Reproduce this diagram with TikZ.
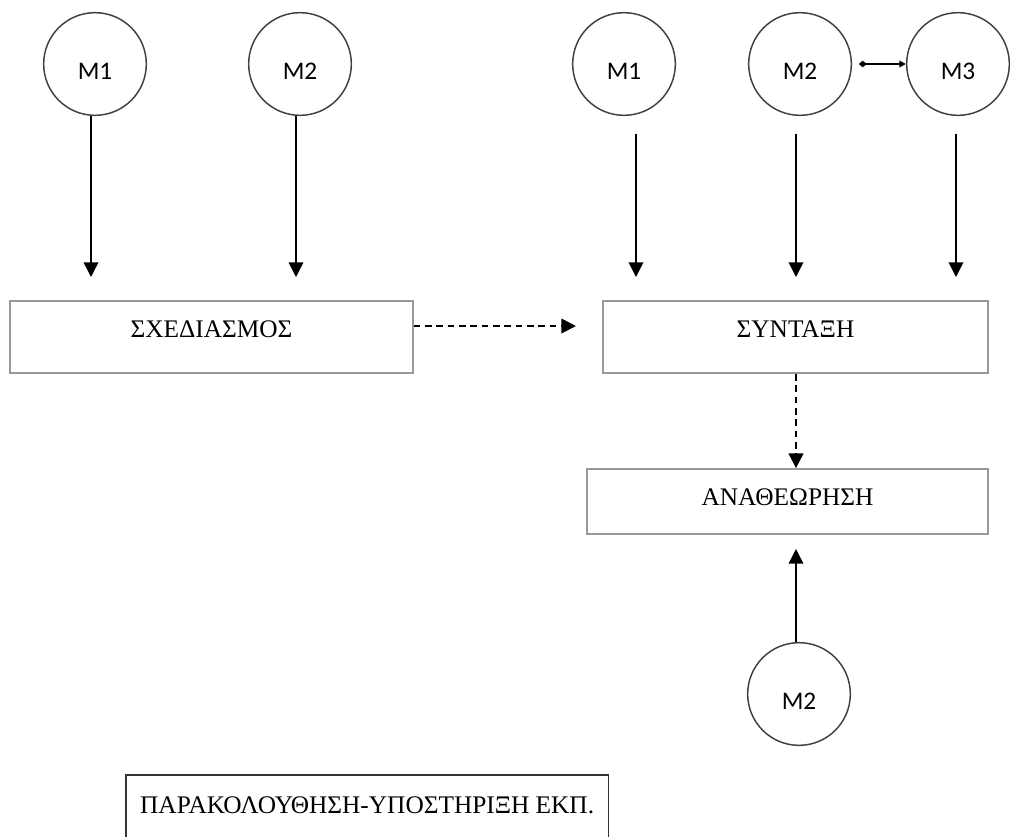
\documentclass[tikz,border=0pt]{standalone}
\usepackage{fontspec}
\setmainfont{Liberation Serif}
\newfontfamily\carlito{Carlito}
\usetikzlibrary{arrows.meta, positioning}

\begin{document}
\begin{tikzpicture}[x=0.75pt, y=-0.75pt,
    mcirc/.style={circle, draw=black!75, line width=1.1pt, minimum size=77pt, inner sep=0pt,
        font=\carlito\fontsize{19}{19}\selectfont, text height=23pt, text depth=0pt},
    tbox/.style={draw=black!40, line width=1.3pt, inner sep=0pt, font=\fontsize{19}{19}\selectfont},
    arr/.style={line width=1.1pt, -{Triangle[length=11pt,width=11pt]}},
    darr/.style={arr, line width=1.4pt, dash pattern=on 5pt off 3.5pt}]
    \useasboundingbox (0,0) rectangle (1010,836);
    % circles
    \node[mcirc] (m1a) at (95,64) {M1};
    \node[mcirc] (m2a) at (300,64) {M2};
    \node[mcirc] (m1b) at (624,64) {M1};
    \node[mcirc] (m2b) at (800,64) {M2};
    \node[mcirc] (m3) at (958,64) {M3};
    \node[mcirc] (m2c) at (799,694) {M2};
    % boxes
    \node[tbox, minimum width=302pt, text height=27pt, text depth=27pt] (sx) at (211.5,337) {ΣΧΕΔΙΑΣΜΟΣ};
    \node[tbox, minimum width=288.75pt, text height=27pt, text depth=27pt] (sy) at (795.5,337) {ΣΥΝΤΑΞΗ};
    \node[tbox, minimum width=300.75pt, text height=27pt, text depth=21.75pt] (an) at (787.5,501.5) {ΑΝΑΘΕΩΡΗΣΗ};
    \node[tbox, draw=black!80, minimum width=362pt, text height=29.25pt, text depth=38pt, anchor=north west] (pk) at (125,774) {ΠΑΡΑΚΟΛΟΥΘΗΣΗ-ΥΠΟΣΤΗΡΙΞΗ ΕΚΠ.};
    % arrow ends
    \coordinate (t1) at (91,277);
    \coordinate (t2) at (296,277);
    \coordinate (t3) at (636,277);
    \coordinate (t4) at (796,277);
    \coordinate (t5) at (956,277);
    \coordinate (td) at (576,326);
    \coordinate (tu) at (796,549);
    \draw[arr] (m1a.south -| t1) -- (t1);
    \draw[arr] (m2a.south -| t2) -- (t2);
    \draw[arr] (m1b.south -| t3) ++(0,18) -- (t3);
    \draw[arr] (m2b.south -| t4) ++(0,18) -- (t4);
    \draw[arr] (m3.south -| t5) ++(0,18) -- (t5);
    \draw[darr] (sx.east |- td) -- (td);
    \draw[darr] (sy.south -| tu) -- (an.north -| tu);
    \draw[arr] (m2c.north -| tu) -- (tu);
    \draw[line width=1pt, {Diamond[length=6pt,width=5pt]}-{Triangle[length=5pt,width=5pt]}, shorten <=5pt] (m2b.east) -- (m3.west);
\end{tikzpicture}
\end{document}
